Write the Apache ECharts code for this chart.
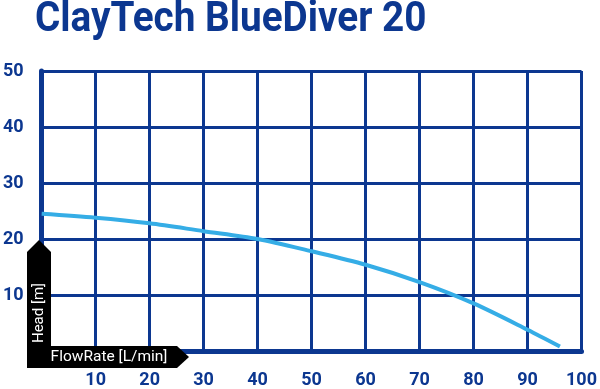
<!DOCTYPE html>
<html><head><meta charset="utf-8">
<script src="https://cdn.jsdelivr.net/npm/echarts@6/dist/echarts.min.js"></script>
<style>html,body{margin:0;padding:0;background:#fff}#c{width:600px;height:389px}</style>
</head><body><div id="c"></div>
<script>
const titleText = "ClayTech BlueDiver 20";
const xAxisName = "FlowRate [L/min]";
const yAxisName = "Head [m]";
const flowRate = [0, 10, 20, 30, 40, 50, 60, 70, 80, 90, 96];
const head =     [24.5, 23.8, 22.8, 21.4, 20.0, 17.8, 15.4, 12.3, 8.5, 3.8, 0.8];
const xTicks = [10, 20, 30, 40, 50, 60, 70, 80, 90, 100];
const yTicks = [10, 20, 30, 40, 50];

const dark = '#0c3790';
const lineColor = '#35ade6';
const chart = echarts.init(document.getElementById('c'), null, {renderer: 'canvas'});
const L = 40, T = 71, W = 547, H = 284;
chart.setOption({
  animation: false,
  grid: {left: L, top: T, width: W, height: H},
  xAxis: {type: 'value', min: 0, max: 100, interval: 10,
    axisLine: {show: true, onZero: false, lineStyle: {color: dark, width: 5}},
    axisTick: {show: false},
    splitLine: {show: true, lineStyle: {color: dark, width: 3}},
    axisLabel: {margin: 20, fontFamily: 'Roboto', fontWeight: 'bold', fontSize: 18, color: dark,
      formatter: v => xTicks.includes(v) ? String(v) : ''}},
  yAxis: {type: 'value', min: 0, max: 50, interval: 10,
    axisLine: {show: true, onZero: false, lineStyle: {color: dark, width: 5}},
    axisTick: {show: false},
    splitLine: {show: true, lineStyle: {color: dark, width: 3}},
    axisLabel: {margin: 18, fontFamily: 'Roboto', fontWeight: 'bold', fontSize: 18, color: dark,
      formatter: v => yTicks.includes(v) ? String(v) : ''}},
  series: [{type: 'line', smooth: 0.3, symbol: 'none', data: flowRate.map((x, i) => [x, head[i]]),
    lineStyle: {color: lineColor, width: 4}}],
  graphic: [
    {type: 'text', z: 100, x: 35, y: -1, scaleX: 0.9, style: {text: titleText, fill: dark, font: 'bold 43px Roboto', align: 'left', verticalAlign: 'top'}},
    {type: 'polygon', z: 100, shape: {points: [[27,252],[39,240],[51,252],[51,368],[27,368]]}, style: {fill: '#000'}},
    {type: 'polygon', z: 100, shape: {points: [[27,346],[177,346],[189,357],[177,368],[27,368]]}, style: {fill: '#000'}},
    {type: 'text', z: 101, x: 39, y: 313, rotation: Math.PI/2, style: {text: yAxisName, fill: '#fff', font: '15px Roboto', align: 'center', verticalAlign: 'middle'}},
    {type: 'text', z: 101, x: 109, y: 357, style: {text: xAxisName, fill: '#fff', font: '15.5px Roboto', align: 'center', verticalAlign: 'middle'}}
  ]
});
</script></body></html>
